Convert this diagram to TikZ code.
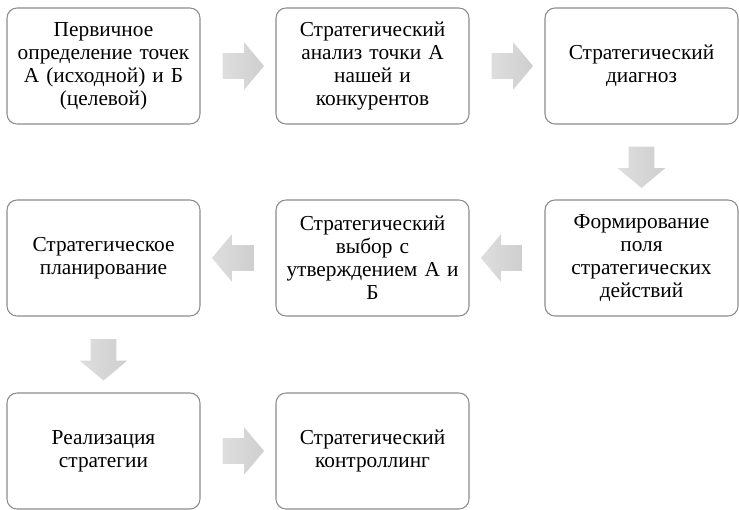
\documentclass[tikz,border=0pt]{standalone}
\usepackage{fontspec}
\setmainfont{Liberation Serif}
\usetikzlibrary{shapes.arrows,calc}

\tikzset{
  stage/.style={draw=black!45, line width=0.8pt, rounded corners=7.5pt,
    minimum width=144.75pt, minimum height=87pt, text width=140pt,
    align=center, inner sep=2pt, font=\fontsize{16}{17.3}\selectfont},
  flow/.style={single arrow, draw=none, left color=black!13, right color=black!19,
    minimum height=31pt, inner xsep=0pt, inner ysep=9.4pt,
    single arrow head extend=8.25pt, single arrow tip angle=100}
}

\begin{document}
\begin{tikzpicture}[x=0.75pt,y=-0.75pt]
        \useasboundingbox (0,0) rectangle (739,510);
        % stages, row by row
        \node (prim) at (103.5,66) [stage] {Первичное\\определение точек\\А (исходной) и Б\\(целевой)};
        \node (anal) at (372.5,66) [stage] {Стратегический\\анализ точки А\\нашей и\\конкурентов};
        \node (diag) at (641.5,66) [stage] {Стратегический\\диагноз};
        \node (pole) at (641.5,258) [stage] {Формирование\\поля\\стратегических\\действий};
        \node (vybor) at (372.5,258) [stage] {Стратегический\\выбор с\\утверждением А и\\Б};
        \node (plan) at (103.5,258) [stage] {Стратегическое\\планирование};
        \node (real) at (103.5,451) [stage] {Реализация\\стратегии};
        \node (kontr) at (372.5,451) [stage] {Стратегический\\контроллинг};
        % block arrows
        \node (a1) at ($(prim.east)!0.5!(anal.west)$) [flow] {};
        \node (a2) at ($(anal.east)!0.5!(diag.west)$) [flow] {};
        \node (a3) at ($(diag.south)!0.5!(pole.north)$) [flow, rotate=-90] {};
        \node (a4) at ($(pole.west)!0.5!(vybor.east)$) [flow, rotate=180] {};
        \node (a5) at ($(vybor.west)!0.5!(plan.east)$) [flow, rotate=180] {};
        \node (a6) at ($(plan.south)!0.5!(real.north)$) [flow, rotate=-90] {};
        \node (a7) at ($(real.east)!0.5!(kontr.west)$) [flow] {};
\end{tikzpicture}
\end{document}
